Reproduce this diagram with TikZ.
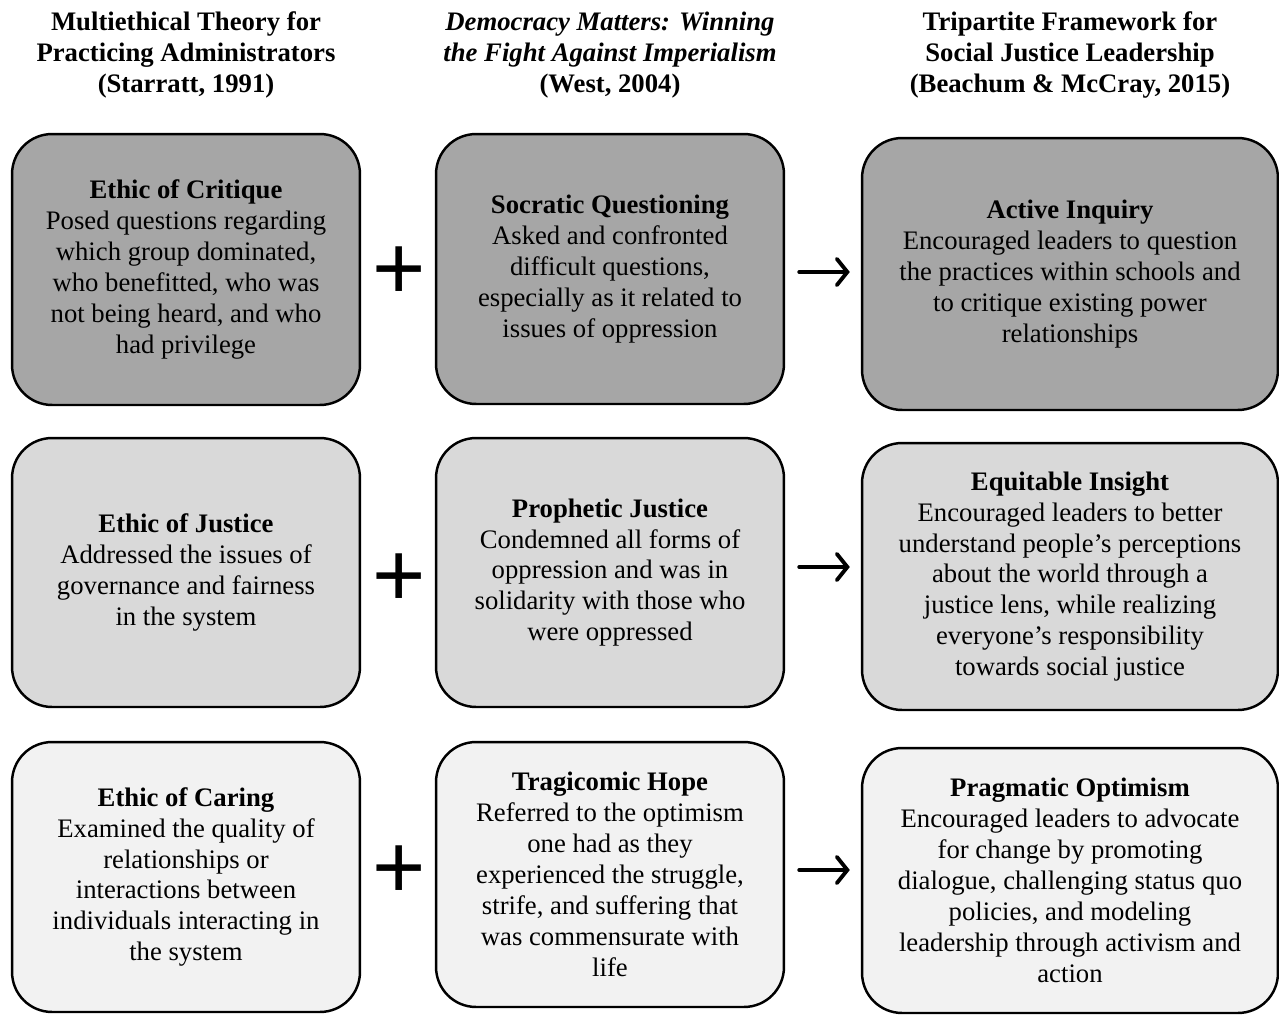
\documentclass[tikz,border=0pt]{standalone}
\usepackage{fontspec}
\setmainfont{Liberation Serif}
\newfontfamily\plusfont{Liberation Sans}
\usetikzlibrary{arrows.meta}

\begin{document}
\begin{tikzpicture}[x=0.02cm, y=-0.02cm,
  every node/.style={font=\fontsize{15.2}{17.6}\selectfont, align=center},
  head/.style={font=\fontsize{15.2}{17.6}\selectfont\bfseries, inner sep=0pt},
  box/.style={draw=black, line width=1.4pt, rounded corners=0.8cm, minimum width=6.96cm},
  wide/.style={box, minimum width=8.32cm},
  dark/.style={fill=black!35},
  mid/.style={fill=black!15},
  light/.style={fill=black!5},
  plus/.style={font=\plusfont\fontsize{52}{52}\selectfont, inner sep=0pt},
  arr/.style={-{Straight Barb[length=6pt,width=15pt,line cap=round]}, line width=2.2pt, line cap=round, shorten <=0.28cm, shorten >=0.22cm}]
\useasboundingbox (0,0) rectangle (1279,1015);

% column heads
\node[head] (h1) at (186,55) {Multiethical Theory for\\Practicing Administrators\\(Starratt, 1991)};
\node[head] (h2) at (610,55) {\textit{Democracy Matters: Winning}\\\textit{the Fight Against Imperialism}\\(West, 2004)};
\node[head] (h3) at (1070,55) {Tripartite Framework for\\Social Justice Leadership\\(Beachum \& McCray, 2015)};

% row 1
\node[box, dark, minimum height=5.42cm] (l1) at (186,269.5) {\textbf{Ethic of Critique}\\Posed questions regarding\\which group dominated,\\who benefitted, who was\\not being heard, and who\\had privilege};
\node[box, dark, minimum height=5.40cm] (m1) at (610,269) {\textbf{Socratic Questioning}\\Asked and confronted\\difficult questions,\\especially as it related to\\issues of oppression};
\node[wide, dark, minimum height=5.44cm] (r1) at (1070,274) {\textbf{Active Inquiry}\\Encouraged leaders to question\\the practices within schools and\\to critique existing power\\relationships};

% row 2
\node[box, mid, minimum height=5.38cm] (l2) at (186,572.5) {\textbf{Ethic of Justice}\\Addressed the issues of\\governance and fairness\\in the system};
\node[box, mid, minimum height=5.38cm] (m2) at (610,572.5) {\textbf{Prophetic Justice}\\Condemned all forms of\\oppression and was in\\solidarity with those who\\were oppressed};
\node[wide, mid, minimum height=5.34cm] (r2) at (1070,576.5) {\textbf{Equitable Insight}\\Encouraged leaders to better\\understand people’s perceptions\\about the world through a\\justice lens, while realizing\\everyone’s responsibility\\towards social justice};

% row 3
\node[box, light, minimum height=5.40cm] (l3) at (186,877) {\textbf{Ethic of Caring}\\Examined the quality of\\relationships or\\interactions between\\individuals interacting in\\the system};
\node[box, light, minimum height=5.30cm] (m3) at (610,874.5) {\textbf{Tragicomic Hope}\\Referred to the optimism\\one had as they\\experienced the struggle,\\strife, and suffering that\\was commensurate with\\life};
\node[wide, light, minimum height=5.30cm] (r3) at (1070,880.5) {\textbf{Pragmatic Optimism}\\Encouraged leaders to advocate\\for change by promoting\\dialogue, challenging status quo\\policies, and modeling\\leadership through activism and\\action};

% plus signs
\node[plus] (p1) at (399,273) {+};
\node[plus] (p2) at (399,580) {+};
\node[plus] (p3) at (399,872) {+};

% arrows
\draw[arr] (m1.east |- 0,272) -- (r1.west |- 0,272);
\draw[arr] (m2.east |- 0,567) -- (r2.west |- 0,567);
\draw[arr] (m3.east |- 0,870) -- (r3.west |- 0,870);
\end{tikzpicture}
\end{document}
